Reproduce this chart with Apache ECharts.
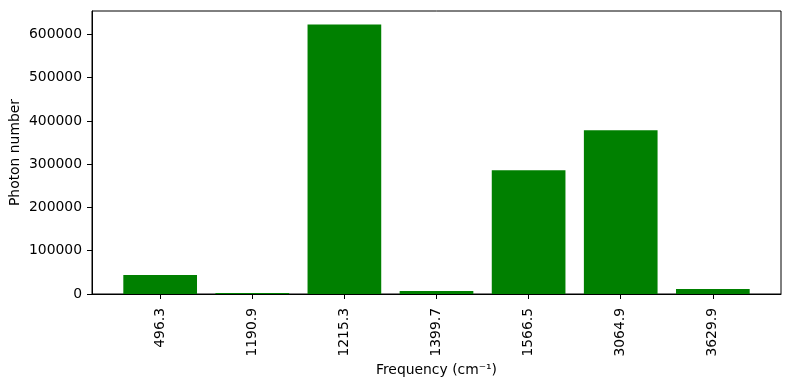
<!DOCTYPE html>
<html>
<head>
<meta charset="utf-8">
<script src="https://cdn.jsdelivr.net/npm/echarts@6/dist/echarts.min.js"></script>
<style>html,body{margin:0;padding:0;background:#fff}#c{width:790px;height:390px}</style>
</head>
<body>
<div id="c"></div>
<script>
const categories = ['496.3', '1190.9', '1215.3', '1399.7', '1566.5', '3064.9', '3629.9'];
const photonNumbers = [44000, 2500, 623000, 7000, 286000, 378500, 11500];
const yTicks = [0, 100000, 200000, 300000, 400000, 500000, 600000];

const xMin = -0.74, xMax = categories.length - 1 + 0.74;
const gridLeft = 92, gridRight = 9, gridTop = 11, gridBottom = 96;
const plotWidth = 790 - gridLeft - gridRight;
const barPx = 0.8 / (xMax - xMin) * plotWidth;
const font = 'DejaVu Sans';

const chart = echarts.init(document.getElementById('c'), null, {renderer: 'canvas'});
chart.setOption({
  animation: false,
  backgroundColor: '#ffffff',
  grid: {left: gridLeft, right: gridRight, top: gridTop, bottom: gridBottom, containLabel: false, outerBoundsMode: 'none',
    show: true, borderColor: '#000', borderWidth: 1, backgroundColor: 'transparent'},
  xAxis: {
    type: 'value', min: xMin, max: xMax,
    name: 'Frequency (cm\u207B\u00B9)', nameLocation: 'middle', nameGap: 69, nameMoveOverlap: false,
    nameTextStyle: {fontFamily: font, fontSize: 13.9, color: '#000'},
    axisLine: {show: true, onZero: false, lineStyle: {color: '#000', width: 1}},
    axisTick: {show: true, length: 5, customValues: categories.map((c, i) => i), lineStyle: {color: '#000'}},
    axisLabel: {customValues: categories.map((c, i) => i), rotate: 90, margin: 14,
      formatter: v => categories[Math.round(v)] ?? '',
      fontFamily: font, fontSize: 13.9, color: '#000'},
    splitLine: {show: false}
  },
  yAxis: {
    type: 'value', min: 0, max: 654000,
    name: 'Photon number', nameLocation: 'middle', nameGap: 70, nameMoveOverlap: false,
    nameTextStyle: {fontFamily: font, fontSize: 13.9, color: '#000'},
    axisLine: {show: true, onZero: false, lineStyle: {color: '#000', width: 1}},
    axisTick: {show: true, length: 5, customValues: yTicks, lineStyle: {color: '#000'}},
    axisLabel: {customValues: yTicks, margin: 10, formatter: v => String(v),
      fontFamily: font, fontSize: 13.9, color: '#000'},
    splitLine: {show: false}
  },
  series: [{
    type: 'bar',
    data: photonNumbers.map((v, i) => [i, v]),
    barWidth: barPx,
    itemStyle: {color: '#008000'}
  }]
});
</script>
</body>
</html>
